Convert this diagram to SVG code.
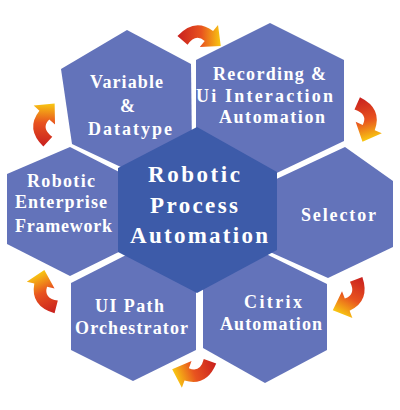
<svg xmlns="http://www.w3.org/2000/svg" xmlns:xlink="http://www.w3.org/1999/xlink" width="400" height="410" viewBox="0 0 400 410">
<style>
.hex{fill:#6373ba}
.core{fill:#3d5ba9}
.lbl{font-family:'Liberation Serif','DejaVu Serif',serif;font-weight:700;fill:#ffffff;text-anchor:middle}
.t{font-size:18px}
.c{font-size:23px}
</style>
<defs>
<linearGradient id="ag" x1="0" y1="0" x2="1" y2="0">
<stop offset="0" stop-color="#c81f1e"/>
<stop offset="0.55" stop-color="#e8531f"/>
<stop offset="1" stop-color="#f8c812"/>
</linearGradient>
<path id="arrow" fill="url(#ag)" d="M -2.6,10.1 Q 13,-7 29.8,5.4 L 34.3,0 L 36.8,19 L 17.7,20 L 22.2,14.6 Q 14,7 6.6,17.9 Z"/>
</defs>
<rect width="400" height="410" fill="#ffffff"/>
<g id="variable-datatype">
<polygon class="hex" points="127,30 191,64 192,150 140,176 72,144 61,69"/>
<g class="lbl t" font-family="Liberation Serif, serif">
<text x="126.5" y="88" textLength="73" lengthAdjust="spacing">Variable</text>
<text x="127.5" y="112">&amp;</text>
<text x="130" y="135" textLength="84" lengthAdjust="spacing">Datatype</text>
</g>
</g>
<g id="recording-ui-interaction">
<polygon class="hex" points="270,23 344,60 344,141 262,180 196,145 196,60"/>
<g class="lbl t" font-family="Liberation Serif, serif">
<text x="269.5" y="80" textLength="113" lengthAdjust="spacing">Recording &amp;</text>
<text x="264.5" y="101.7" textLength="137" lengthAdjust="spacing">Ui Interaction</text>
<text x="272" y="123" textLength="106" lengthAdjust="spacing">Automation</text>
</g>
</g>
<g id="selector">
<polygon class="hex" points="345,147 393,181 393,247 328,278 270,252 270,182"/>
<g class="lbl t" font-family="Liberation Serif, serif">
<text x="338.5" y="220.7" textLength="75" lengthAdjust="spacing">Selector</text>
</g>
</g>
<g id="citrix-automation">
<polygon class="hex" points="262,252 327,284 327,350 265,383 203,348 203,285"/>
<g class="lbl t" font-family="Liberation Serif, serif">
<text x="273" y="308" textLength="58" lengthAdjust="spacing">Citrix</text>
<text x="271" y="330" textLength="102" lengthAdjust="spacing">Automation</text>
</g>
</g>
<g id="ui-path-orchestrator">
<polygon class="hex" points="136,250 196,284 196,350 133,381 71,350 71,283"/>
<g class="lbl t" font-family="Liberation Serif, serif">
<text x="129.5" y="311.7" textLength="69" lengthAdjust="spacing">UI Path</text>
<text x="131.5" y="334.3" textLength="113" lengthAdjust="spacing">Orchestrator</text>
</g>
</g>
<g id="robotic-enterprise-framework">
<polygon class="hex" points="70,147 135,180 135,244 70,276 7,244 7,174"/>
<g class="lbl t" font-family="Liberation Serif, serif">
<text x="61" y="186.7" textLength="68" lengthAdjust="spacing">Robotic</text>
<text x="61" y="208" textLength="92" lengthAdjust="spacing">Enterprise</text>
<text x="63.5" y="231.7" textLength="97" lengthAdjust="spacing">Framework</text>
</g>
</g>
<g id="robotic-process-automation">
<polygon class="core" points="197,127 277,172 277,250 197,293 118,252 118,168"/>
<g class="lbl c" font-family="Liberation Serif, serif">
<text x="194" y="181.7" textLength="92" lengthAdjust="spacing">Robotic</text>
<text x="194" y="213.3" textLength="88" lengthAdjust="spacing">Process</text>
<text x="199" y="242.7" textLength="138" lengthAdjust="spacing">Automation</text>
</g>
</g>
<g id="connectors">
<use xlink:href="#arrow" transform="translate(199,36) rotate(0) scale(1.1) translate(-17,-10)"/>
<use xlink:href="#arrow" transform="translate(366,118) rotate(74) scale(1.1) translate(-17,-10)"/>
<use xlink:href="#arrow" transform="translate(352,296) rotate(119) scale(1.1) translate(-17,-10)"/>
<use xlink:href="#arrow" transform="translate(196,371) rotate(160) scale(1.1) translate(-17,-10)"/>
<use xlink:href="#arrow" transform="translate(45,294) rotate(244) scale(1.1) translate(-17,-10)"/>
<use xlink:href="#arrow" transform="translate(44,125) rotate(272) scale(1.1) translate(-17,-10)"/>
</g>
</svg>
